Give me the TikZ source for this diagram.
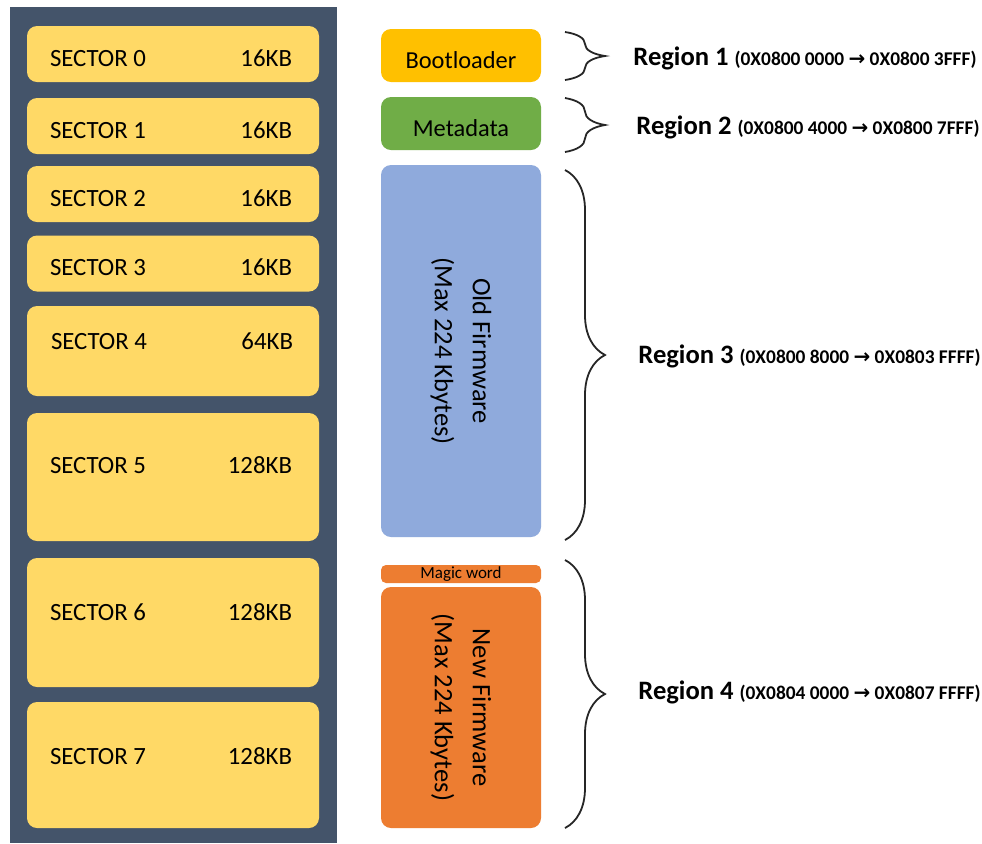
\documentclass[tikz,border=0pt]{standalone}
\usepackage{fontspec}
\setmainfont{Carlito}
\newfontfamily\arrowfont{DejaVu Sans}
\usepackage{tikz}
\usetikzlibrary{decorations.pathreplacing}
\definecolor{FlashSlate}{HTML}{44546A}
\definecolor{SectorGold}{HTML}{FFD966}
\definecolor{BootAmber}{HTML}{FFC000}
\definecolor{MetaGreen}{HTML}{70AD47}
\definecolor{OldBlue}{HTML}{8FAADC}
\definecolor{NewOrange}{HTML}{ED7D31}
\newcommand{\slot}[2]{\makebox[121pt]{#1\hfill #2}}
\newcommand{\addr}[2]{{\fontsize{9.7}{11}\selectfont(#1 {\arrowfont\fontsize{10}{11}\selectfont\bfseries →} #2)}}
\newcommand{\low}[1]{\raisebox{-2pt}[9pt][0pt]{#1}}

\begin{document}
\begin{tikzpicture}[x=0.5pt,y=-0.5pt,
  sector/.style={fill=SectorGold,rounded corners=5pt,minimum width=146pt,inner sep=0pt},
  stext/.style={inner sep=0pt,font=\fontsize{12.4}{14}\selectfont},
  part/.style={rounded corners=5pt,minimum width=80pt,inner sep=0pt,align=center,font=\fontsize{12.2}{14}\selectfont},
  fw/.style={part,rotate=-90,font=\fontsize{13.3}{19}\selectfont},
  region/.style={anchor=west,inner sep=0pt,font=\fontsize{13.3}{15}\selectfont\bfseries},
  brace/.style={decorate,decoration={brace,amplitude=20pt},line width=0.9pt,draw=black!85}
]
\useasboundingbox[fill=white] (0,0) rectangle (982,843);
% flash column
\fill[FlashSlate] (10,7) rectangle (337,843);
\node[sector,minimum height=28pt] (s0) at (173,54) {};
\node[sector,minimum height=28pt] (s1) at (173,126) {};
\node[sector,minimum height=28pt] (s2) at (173,194) {};
\node[sector,minimum height=28pt] (s3) at (173,263.5) {};
\node[sector,minimum height=45pt] (s4) at (173,351) {};
\node[sector,minimum height=64pt] (s5) at (173,477) {};
\node[sector,minimum height=64.5pt] (s6) at (173,622.5) {};
\node[sector,minimum height=63pt] (s7) at (173,765) {};
\node[stext] (l0) at (171,58) {\slot{SECTOR 0}{16KB}};
\node[stext] (l1) at (171,130) {\slot{SECTOR 1}{16KB}};
\node[stext] (l2) at (171,198) {\slot{SECTOR 2}{16KB}};
\node[stext] (l3) at (171,267) {\slot{SECTOR 3}{16KB}};
\node[stext] (l4) at (172,341) {\slot{SECTOR 4}{64KB}};
\node[stext] (l5) at (171,465) {\slot{SECTOR 5}{128KB}};
\node[stext] (l6) at (171,612) {\slot{SECTOR 6}{128KB}};
\node[stext] (l7) at (171,756) {\slot{SECTOR 7}{128KB}};
% memory map
\node[part,fill=BootAmber,minimum height=26.5pt] (boot) at (461,55.5) {\low{Bootloader}};
\node[part,fill=MetaGreen,minimum height=26.5pt] (meta) at (461,123.5) {\low{Metadata}};
\node[fw,fill=OldBlue,minimum width=186pt,minimum height=80pt] (old) at (461,351) {Old Firmware\\(Max 224 Kbytes)};
\node[part,fill=NewOrange,minimum height=9pt,rounded corners=2.5pt,font=\fontsize{8.5}{9}\selectfont] (magic) at (461,574) {Magic word};
\node[fw,fill=NewOrange,minimum width=120.5pt,minimum height=80pt] (new) at (461,707.5) {New Firmware\\(Max 224 Kbytes)};
% braces
\coordinate (b1t) at (565,32);  \coordinate (b1b) at (565,80);
\coordinate (b2t) at (565,98);  \coordinate (b2b) at (565,152);
\coordinate (b3t) at (565,170); \coordinate (b3b) at (565,540);
\coordinate (b4t) at (565,560); \coordinate (b4b) at (565,828);
\draw[brace] (b1t) -- (b1b);
\draw[brace] (b2t) -- (b2b);
\draw[brace] (b3t) -- (b3b);
\draw[brace] (b4t) -- (b4b);
\node[region] (r1) at (633,58) {Region 1 \addr{0X0800 0000}{0X0800 3FFF}};
\node[region] (r2) at (636,127) {Region 2 \addr{0X0800 4000}{0X0800 7FFF}};
\node[region] (r3) at (638,356) {Region 3 \addr{0X0800 8000}{0X0803 FFFF}};
\node[region] (r4) at (638,692) {Region 4 \addr{0X0804 0000}{0X0807 FFFF}};
\end{tikzpicture}
\end{document}
